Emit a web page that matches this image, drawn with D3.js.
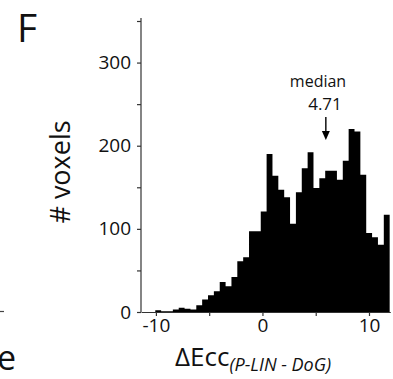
<!DOCTYPE html>
<html>
  <head>
    <meta charset="UTF-8" />
    <style>
      body { margin: 0; background: #fff; }
      svg { display: block; font-family: "Open Sans", sans-serif; }
    </style>
  </head>
  <body>
    <svg></svg>
    <script src="https://d3js.org/d3.v7.min.js"></script>
    <script>
      let width = 393,
        height = 379;

      // histogram: 40 bins of equal width over the data range
      const binStart = -10.06;
      const binWidth = 0.55;
      const counts = [
        2, 1, 1, 3, 5, 4, 3, 8, 15, 20,
        25, 36, 31, 42, 61, 66, 97, 97, 121, 190,
        164, 147, 138, 106, 144, 173, 192, 149, 161, 170,
        170, 159, 182, 220, 217, 165, 95, 90, 81, 117,
      ];
      const xTicks = [-10, -5, 0, 5, 10];
      const xLabels = [-10, 0, 10];
      const yTicks = [0, 50, 100, 150, 200, 250, 300, 350];
      const yLabels = [0, 100, 200, 300];
      const medianText = ["median", "4.71"];
      const arrowAt = 5.95;

      let svg = d3.select("svg").attr("width", width).attr("height", height);

      var x = d3.scaleLinear().domain([-11.4, 12]).range([141, 390.3]);
      var y = d3.scaleLinear().domain([0, 350]).range([312, 21]);

      var bins = counts.map((c, i) => ({ x: binStart + i * binWidth, n: c }));
      // closing point so the last bin gets its right edge
      bins.push({ x: binStart + counts.length * binWidth, n: counts[counts.length - 1] });

      var area = d3
        .area()
        .x((d) => x(d.x))
        .y0(y(0))
        .y1((d) => y(d.n))
        .curve(d3.curveStepAfter);

      svg.append("path").datum(bins).attr("d", area).attr("fill", "#000");

      // axes
      var xAxis = svg
        .append("g")
        .attr("transform", "translate(0," + y(0) + ")")
        .call(d3.axisBottom(x).tickValues(xTicks).tickSize(4).tickSizeOuter(0).tickFormat((d) => (xLabels.includes(d) ? String(d) : "")));

      var yAxis = svg
        .append("g")
        .attr("transform", "translate(" + x.range()[0] + ",0)")
        .call(d3.axisLeft(y).tickValues(yTicks).tickSize(4).tickSizeOuter(0).tickFormat((d) => (yLabels.includes(d) ? String(d) : "")));

      [xAxis, yAxis].forEach((g) => {
        g.select(".domain").attr("stroke", "#333").attr("stroke-width", 1.2);
        g.selectAll(".tick line").attr("stroke", "#333").attr("stroke-width", 1.2);
        g.selectAll("text").attr("fill", "#111").style("font-size", "19px").style("font-family", '"Open Sans", sans-serif');
      });
      xAxis.selectAll("text").attr("y", 7);
      yAxis.selectAll("text").attr("x", -10);
      yAxis.select(".domain").attr("d", "M0," + y(0) + "V" + (y.range()[1] - 3));

      // axis titles
      svg
        .append("text")
        .attr("transform", "translate(70,172) rotate(-90)")
        .attr("text-anchor", "middle")
        .style("font-size", "27px")
        .attr("fill", "#111")
        .text("# voxels");

      var xt = svg
        .append("text")
        .attr("x", 175)
        .attr("y", 366)
        .attr("fill", "#111")
        .style("font-size", "26px");
      xt.append("tspan").text("\u0394Ecc");
      xt.append("tspan")
        .attr("dy", 5)
        .style("font-size", "18px")
        .style("font-style", "italic")
        .text("(P-LIN - DoG)");

      // median annotation
      svg
        .append("text")
        .attr("x", 318)
        .attr("y", 87)
        .attr("text-anchor", "middle")
        .style("font-size", "16px")
        .attr("fill", "#111")
        .text(medianText[0]);
      svg
        .append("text")
        .attr("x", 325)
        .attr("y", 110)
        .attr("text-anchor", "middle")
        .style("font-size", "17px")
        .attr("fill", "#111")
        .text(medianText[1]);

      var ax = x(arrowAt);
      svg
        .append("line")
        .attr("x1", ax)
        .attr("x2", ax)
        .attr("y1", 117)
        .attr("y2", 134)
        .attr("stroke", "#000")
        .attr("stroke-width", 1.4);
      svg
        .append("path")
        .attr("d", "M" + (ax - 4) + ",131L" + (ax + 4) + ",131L" + ax + ",140Z")
        .attr("fill", "#000");

      // panel letter
      svg
        .append("text")
        .attr("x", 17)
        .attr("y", 42)
        .style("font-size", "39px")
        .attr("fill", "#111")
        .text("F");

      // bits of the neighbouring panel cut at the left edge
      svg
        .append("line")
        .attr("x1", 0)
        .attr("x2", 4)
        .attr("y1", 311.5)
        .attr("y2", 311.5)
        .attr("stroke", "#444")
        .attr("stroke-width", 1.2);
      svg
        .append("text")
        .attr("x", -3)
        .attr("y", 370)
        .style("font-size", "34px")
        .attr("fill", "#111")
        .text("e");
    </script>
  </body>
</html>
